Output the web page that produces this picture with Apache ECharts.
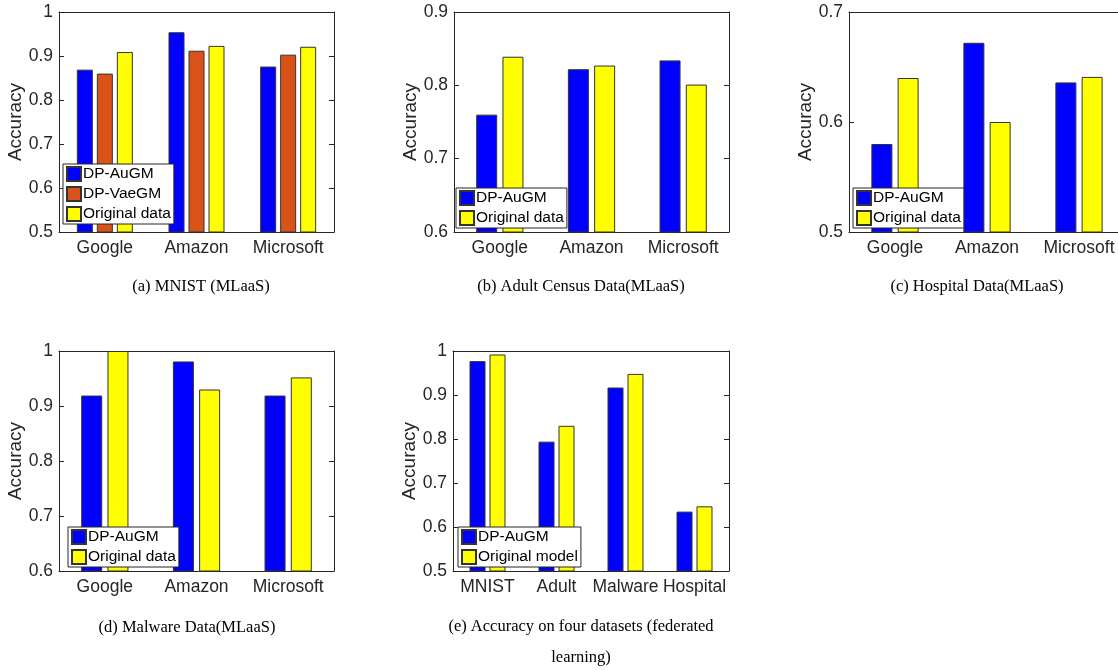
<!DOCTYPE html>
<html>
<head>
<meta charset="utf-8">
<title>Accuracy</title>
<script src="https://cdn.jsdelivr.net/npm/echarts@6/dist/echarts.min.js"></script>
<style>
  html, body { margin: 0; padding: 0; background: #fff; }
  #main { width: 1118px; height: 670px; }
</style>
</head>
<body>
<div id="main"></div>
<script>
// categories
var mlaasCats = ['Google', 'Amazon', 'Microsoft'];
var fedCats = ['MNIST', 'Adult', 'Malware', 'Hospital'];

// (a) MNIST
var mnistAugm = [0.869, 0.954, 0.876];
var mnistVaegm = [0.860, 0.912, 0.903];
var mnistOrig = [0.909, 0.923, 0.921];
// (b) Adult
var adultAugm = [0.760, 0.822, 0.834];
var adultOrig = [0.839, 0.827, 0.801];
// (c) Hospital
var hospAugm = [0.580, 0.672, 0.636];
var hospOrig = [0.640, 0.600, 0.641];
// (d) Malware
var malwAugm = [0.919, 0.981, 0.919];
var malwOrig = [1.0, 0.930, 0.952];
// (e) federated
var fedAugm = [0.977, 0.794, 0.917, 0.635];
var fedOrig = [0.992, 0.830, 0.948, 0.647];

// y ranges [min, max] per panel, tick step 0.1
var yRanges = [[0.5, 1], [0.6, 0.9], [0.5, 0.7], [0.6, 1], [0.5, 1]];
var captions = [
  ['(a) MNIST (MLaaS)'],
  ['(b) Adult Census Data(MLaaS)'],
  ['(c) Hospital Data(MLaaS)'],
  ['(d) Malware Data(MLaaS)'],
  ['(e) Accuracy on four datasets (federated', 'learning)']
];

var BLUE = '#0000ff', ORANGE = '#d95319', YELLOW = '#ffff00';
var AX = '#262626';
var SANS = '"Liberation Sans", Arial, Helvetica, sans-serif';
var SERIF = '"Liberation Serif", "Times New Roman", serif';

// panel (c) runs past the right edge of the page, as in the original figure
var grids = [
  { left: 59, top: 12, width: 275, height: 220 },
  { left: 454, top: 12, width: 275, height: 220 },
  { left: 849, top: 12, width: 276, height: 220 },
  { left: 59, top: 351, width: 275, height: 220 },
  { left: 453, top: 351, width: 276, height: 220 }
].map(function (g) { g.outerBoundsMode = 'none'; g.containLabel = false; return g; });
var catsOf = [mlaasCats, mlaasCats, mlaasCats, mlaasCats, fedCats];
var captionPos = [[201, 287], [581, 287], [977, 287], [187, 628], [581, 627]];
var legendPos = [[63, 164], [456, 188], [853, 188], [68, 527], [458, 527]];
var nameGaps = [33, 31, 31, 33, 31];

var xAxes = [], yAxes = [];
grids.forEach(function (g, i) {
  xAxes.push({
    type: 'category', gridIndex: i, data: catsOf[i], position: 'bottom',
    axisLine: { lineStyle: { color: AX, width: 1 } },
    axisTick: { inside: true, alignWithLabel: true, length: 4, lineStyle: { color: AX } },
    axisLabel: { color: AX, fontSize: 17.5, fontFamily: SANS, margin: 7, interval: 0 }
  });
  xAxes.push({
    type: 'category', gridIndex: i, data: catsOf[i], position: 'top',
    axisLine: { lineStyle: { color: AX, width: 1 } },
    axisTick: { inside: true, alignWithLabel: true, length: 4, lineStyle: { color: AX } },
    axisLabel: { show: false }
  });
  var r = yRanges[i];
  yAxes.push({
    type: 'value', gridIndex: i, min: r[0], max: r[1], interval: 0.1, position: 'left',
    name: 'Accuracy', nameLocation: 'middle', nameGap: nameGaps[i],
    nameTextStyle: { color: AX, fontSize: 19, fontFamily: SANS },
    axisLine: { show: true, lineStyle: { color: AX, width: 1 } },
    axisTick: { show: true, inside: true, length: 5, lineStyle: { color: AX } },
    axisLabel: { color: AX, fontSize: 17.5, fontFamily: SANS, margin: 6 },
    splitLine: { show: false }
  });
  yAxes.push({
    type: 'value', gridIndex: i, min: r[0], max: r[1], interval: 0.1, position: 'right',
    axisLine: { show: true, lineStyle: { color: AX, width: 1 } },
    axisTick: { show: true, inside: true, length: 5, lineStyle: { color: AX } },
    axisLabel: { show: false },
    splitLine: { show: false }
  });
});

function bar(name, data, color, panel, width) {
  return {
    name: name, type: 'bar', data: data,
    xAxisIndex: panel * 2, yAxisIndex: panel * 2,
    barWidth: width, barGap: '25%',
    itemStyle: { color: color, borderColor: '#333', borderWidth: 1 },
    emphasis: { disabled: true }
  };
}

var series = [
  bar('DP-AuGM', mnistAugm, BLUE, 0, 16),
  bar('DP-VaeGM', mnistVaegm, ORANGE, 0, 16),
  bar('Original data', mnistOrig, YELLOW, 0, 16),
  bar('DP-AuGM', adultAugm, BLUE, 1, 21),
  bar('Original data', adultOrig, YELLOW, 1, 21),
  bar('DP-AuGM', hospAugm, BLUE, 2, 21),
  bar('Original data', hospOrig, YELLOW, 2, 21),
  bar('DP-AuGM', malwAugm, BLUE, 3, 21),
  bar('Original data', malwOrig, YELLOW, 3, 21),
  bar('DP-AuGM', fedAugm, BLUE, 4, 16),
  bar('Original model', fedOrig, YELLOW, 4, 16)
];

var legendNames = [
  ['DP-AuGM', 'DP-VaeGM', 'Original data'],
  ['DP-AuGM', 'Original data'],
  ['DP-AuGM', 'Original data'],
  ['DP-AuGM', 'Original data'],
  ['DP-AuGM', 'Original model']
];
var legends = legendNames.map(function (names, i) {
  return {
    data: names, orient: 'vertical', left: legendPos[i][0], top: legendPos[i][1],
    icon: 'rect', itemWidth: 14, itemHeight: 14, itemGap: 4,
    padding: [2, 3, 2, 3], backgroundColor: '#fff',
    borderColor: AX, borderWidth: 1, borderRadius: 0,
    selectedMode: false,
    textStyle: { color: '#000', fontSize: 15.5, fontFamily: SANS, padding: [0, 0, 0, -3] },
    z: 10
  };
});

// sub-figure captions
var graphics = [];
captions.forEach(function (lines, i) {
  lines.forEach(function (line, j) {
    graphics.push({
      type: 'text', x: captionPos[i][0], y: captionPos[i][1] + j * 31,
      style: { text: line, fill: '#000', font: '16.5px ' + SERIF, align: 'center', verticalAlign: 'middle' }
    });
  });
});

var chart = echarts.init(document.getElementById('main'), null, { renderer: 'canvas' });
chart.setOption({
  animation: false,
  backgroundColor: '#fff',
  grid: grids,
  xAxis: xAxes,
  yAxis: yAxes,
  legend: legends,
  series: series,
  graphic: graphics
});
</script>
</body>
</html>
